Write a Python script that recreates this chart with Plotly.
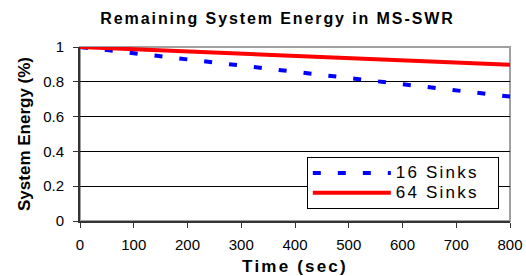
import plotly.graph_objects as go

time_sec = [0, 100, 200, 300, 400, 500, 600, 700, 800]
sinks16 = [1.0, 0.965, 0.93, 0.895, 0.86, 0.822, 0.786, 0.75, 0.715]
sinks64 = [1.0, 0.987, 0.975, 0.962, 0.95, 0.937, 0.924, 0.911, 0.898]
y_ticks = [0, 0.2, 0.4, 0.6, 0.8, 1]
series_names = ["16 Sinks", "64 Sinks"]

FONT = "Liberation Sans, Arial, sans-serif"


def spaced(txt, size=None, spacing=1.8, tail=""):
    style = "letter-spacing:%spx" % spacing
    if size:
        style += ";font-size:%dpx" % size
    return '<span style="%s">%s%s</span>' % (style, txt, tail)


fig = go.Figure()
fig.add_trace(go.Scatter(x=time_sec, y=sinks16, mode="lines",
                         name=spaced(series_names[0], 17, 2.2, "&nbsp;" * 2),
                         line=dict(color="#0000ff", width=4, dash="8px,17px")))
fig.add_trace(go.Scatter(x=time_sec, y=sinks64, mode="lines",
                         name=spaced(series_names[1], 17, 2.2, "&nbsp;" * 2),
                         line=dict(color="#ff0000", width=4)))

fig.update_layout(
    width=526, height=276,
    margin=dict(l=80, r=16, t=47, b=55),
    paper_bgcolor="white", plot_bgcolor="white",
    font=dict(family=FONT, color="black"),
    title=dict(text="<b>" + spaced("Remaining System Energy in MS-SWR", None, 1.9) + "</b>",
               x=0.5276, xanchor="center",
               y=0.934, yanchor="middle", font=dict(size=16, family=FONT)),
    legend=dict(x=0.974, xanchor="right", y=0.069, yanchor="bottom",
                bgcolor="white", bordercolor="black", borderwidth=1,
                font=dict(size=13, family=FONT), itemwidth=78,
                tracegroupgap=0),
    showlegend=True,
)
fig.update_xaxes(range=[0, 800], tickvals=time_sec, ticks="outside", ticklen=5,
                 tickcolor="#333", showline=True, linecolor="#333", linewidth=2,
                 showgrid=False, zeroline=False, automargin=False,
                 tickfont=dict(size=15), ticklabelstandoff=4,
                 title=dict(text="<b>" + spaced("Time (sec)", None, 2.2) + "</b>",
                            font=dict(size=17), standoff=8))
fig.update_yaxes(range=[0, 1], tickvals=y_ticks, ticks="outside", ticklen=5,
                 tickcolor="#333", showline=True, linecolor="#333", linewidth=2,
                 showgrid=True, gridcolor="black", gridwidth=1, zeroline=False, automargin=False,
                 tickfont=dict(size=15), ticklabelstandoff=6,
                 title=dict(text="<b>System Energy (%)</b>", font=dict(size=17), standoff=8))
fig.add_shape(type="rect", xref="paper", yref="paper", x0=0, y0=0, x1=1, y1=1,
              line=dict(color="#a0a0a0", width=2), layer="between")

post = "document.body.style.margin='0';"
fig.write_html("out.html", post_script=post, config={"displayModeBar": False})
